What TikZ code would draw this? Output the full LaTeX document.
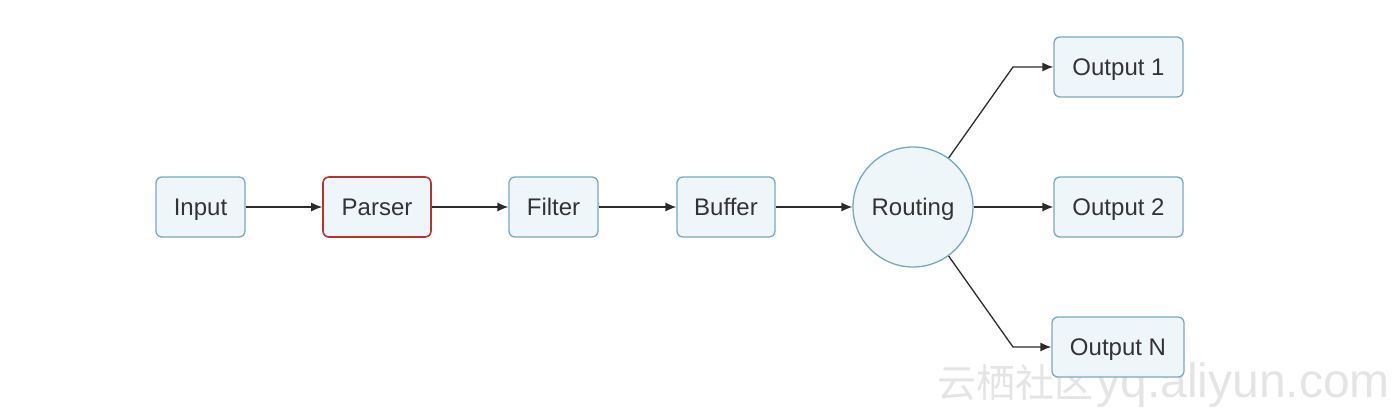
\documentclass[tikz,border=0pt]{standalone}
\usepackage{fontspec}
\setmainfont{Liberation Sans}
\newfontfamily\cjkfont{Noto Sans CJK SC}
\usetikzlibrary{arrows.meta}
\definecolor{boxfill}{HTML}{EFF6FA}
\definecolor{boxdraw}{HTML}{76A8C4}
\definecolor{reddraw}{HTML}{B8322E}
\definecolor{linec}{HTML}{2B2B2B}
\definecolor{textc}{HTML}{333333}
\definecolor{wmark}{HTML}{E4E4E4}
\begin{document}
\begin{tikzpicture}[x=1pt,y=-1pt,
  lbl/.style={text=textc, font=\fontsize{24}{28}\selectfont, text height=18pt, text depth=2pt},
  box/.style={lbl, draw=boxdraw, fill=boxfill, line width=1.3pt, rounded corners=6pt,
    minimum height=60pt, inner sep=0pt},
  redbox/.style={box, draw=reddraw, line width=1.6pt},
  hub/.style={lbl, circle, draw=boxdraw, fill=boxfill, line width=1.3pt, minimum size=120pt,
    inner sep=0pt},
  conn/.style={draw=linec, line width=1.3pt, -{Latex[length=11pt,width=9pt]}}
]
\useasboundingbox (0,0) rectangle (1400,415);
\node[text=wmark, anchor=east, inner sep=0pt] (wm) at (1390,385)
  {{\cjkfont\fontsize{39}{40}\selectfont 云栖社区} {\fontsize{48}{52}\selectfont yq.aliyun.com}};
\node[box, minimum width=89pt] (input) at (200.5,207) {Input};
\node[redbox, minimum width=108pt] (parser) at (377,207) {Parser};
\node[box, minimum width=89pt] (filter) at (553.5,207) {Filter};
\node[box, minimum width=98pt] (buffer) at (726,207) {Buffer};
\node[hub] (routing) at (913,207) {Routing};
\node[box, minimum width=129pt] (out1) at (1118.5,67) {Output 1};
\node[box, minimum width=129pt] (out2) at (1118.5,207) {Output 2};
\node[box, minimum width=132pt] (outn) at (1118,347) {Output N};
\coordinate (b1) at (1013,67);
\coordinate (bn) at (1013,347);
\draw[conn] (input) -- (parser);
\draw[conn] (parser) -- (filter);
\draw[conn] (filter) -- (buffer);
\draw[conn] (buffer) -- (routing);
\draw[conn] (routing) -- (out2);
\draw[conn] (routing.54) -- (b1) -- (out1);
\draw[conn] (routing.-54) -- (bn) -- (outn);
\end{tikzpicture}
\end{document}
